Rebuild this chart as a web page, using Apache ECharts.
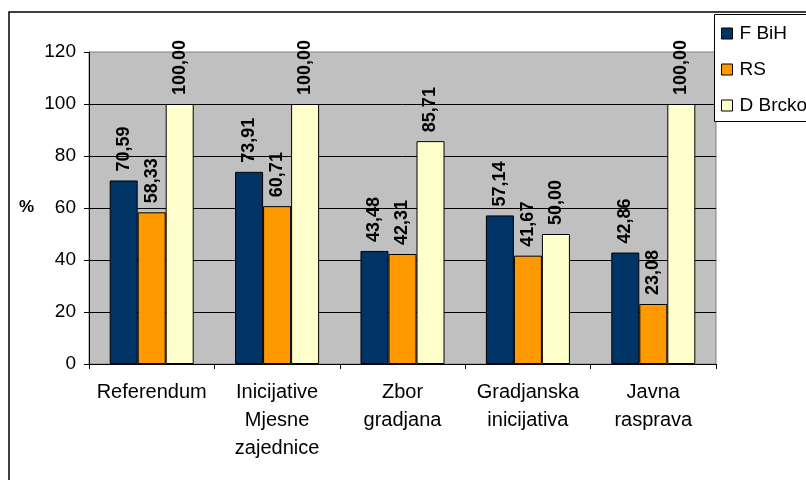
<!DOCTYPE html>
<html>
<head>
<meta charset="utf-8">
<script src="https://cdn.jsdelivr.net/npm/echarts@6/dist/echarts.min.js"></script>
<style>html,body{margin:0;padding:0;background:#fff}#c{width:806px;height:480px}</style>
</head>
<body>
<div id="c"></div>
<script>
var categories = ['Referendum', 'Inicijative\nMjesne\nzajednice', 'Zbor\ngradjana', 'Gradjanska\ninicijativa', 'Javna\nrasprava'];
var seriesNames = ['F BiH', 'RS', 'D Brcko'];
var fbih = [70.59, 73.91, 43.48, 57.14, 42.86];
var rs = [58.33, 60.71, 42.31, 41.67, 23.08];
var dbrcko = [100.00, 100.00, 85.71, 50.00, 100.00];
var yTicks = [0, 20, 40, 60, 80, 100, 120];
var colors = ['#003366', '#FF9900', '#FFFFCC'];

var font = 'Arial, "Liberation Sans", sans-serif';
var chart = echarts.init(document.getElementById('c'), null, {renderer: 'canvas'});

function mk(name, data, color) {
  return {
    name: name, type: 'bar', data: data,
    barGap: '0%', barCategoryGap: '33%',
    itemStyle: {color: color, borderColor: '#000', borderWidth: 1},
    label: {
      show: true, position: 'top', rotate: 90, align: 'left', verticalAlign: 'middle',
      distance: 9, fontFamily: font, fontWeight: 'bold', fontSize: 18, color: '#000',
      formatter: function (p) { return p.value.toFixed(2).replace('.', ','); }
    }
  };
}

chart.setOption({
  animation: false,
  backgroundColor: '#fff',
  textStyle: {fontFamily: font},
  grid: {left: 89, top: 52, right: 90, bottom: 116, show: true, backgroundColor: '#C0C0C0', borderColor: '#808080', borderWidth: 1},
  legend: {
    orient: 'vertical', left: 714, top: 14, z: 20,
    data: seriesNames,
    padding: [10, 0, 7, 7],
    itemWidth: 11, itemHeight: 11, itemGap: 17,
    icon: 'rect',
    itemStyle: {borderColor: '#000', borderWidth: 1},
    textStyle: {fontFamily: font, fontSize: 19, color: '#000', padding: [0, 0, 0, 2]}
  },
  xAxis: {
    type: 'category', data: categories,
    axisLine: {show: true, lineStyle: {color: '#000', width: 1}},
    axisTick: {show: true, alignWithLabel: false, length: 5, lineStyle: {color: '#000'}},
    axisLabel: {fontFamily: font, fontSize: 20, color: '#000', lineHeight: 28, margin: 14, interval: 0},
    splitLine: {show: false}
  },
  yAxis: {
    type: 'value', min: yTicks[0], max: yTicks[yTicks.length - 1], interval: 20,
    axisLine: {show: true, lineStyle: {color: '#000', width: 1}},
    axisTick: {show: true, length: 5, lineStyle: {color: '#000'}},
    axisLabel: {fontFamily: font, fontSize: 19, color: '#000', margin: 13},
    splitLine: {show: true, showMaxLine: false, lineStyle: {color: '#000', width: 1}}
  },
  graphic: [
    {type: 'rect', shape: {x: 9, y: 12, width: 1200, height: 1000}, style: {fill: 'none', stroke: '#000', lineWidth: 1.5}, silent: true, z: 100},
    {type: 'rect', shape: {x: 714.5, y: 14.5, width: 200, height: 107}, style: {fill: '#fff', stroke: '#000', lineWidth: 1}, silent: true, z: 10},
    {type: 'text', left: 19, top: 199, style: {text: '%', fontFamily: font, fontWeight: 'bold', fontSize: 17, fill: '#000'}}
  ],
  series: [mk(seriesNames[0], fbih, colors[0]), mk(seriesNames[1], rs, colors[1]), mk(seriesNames[2], dbrcko, colors[2])]
});
</script>
</body>
</html>
